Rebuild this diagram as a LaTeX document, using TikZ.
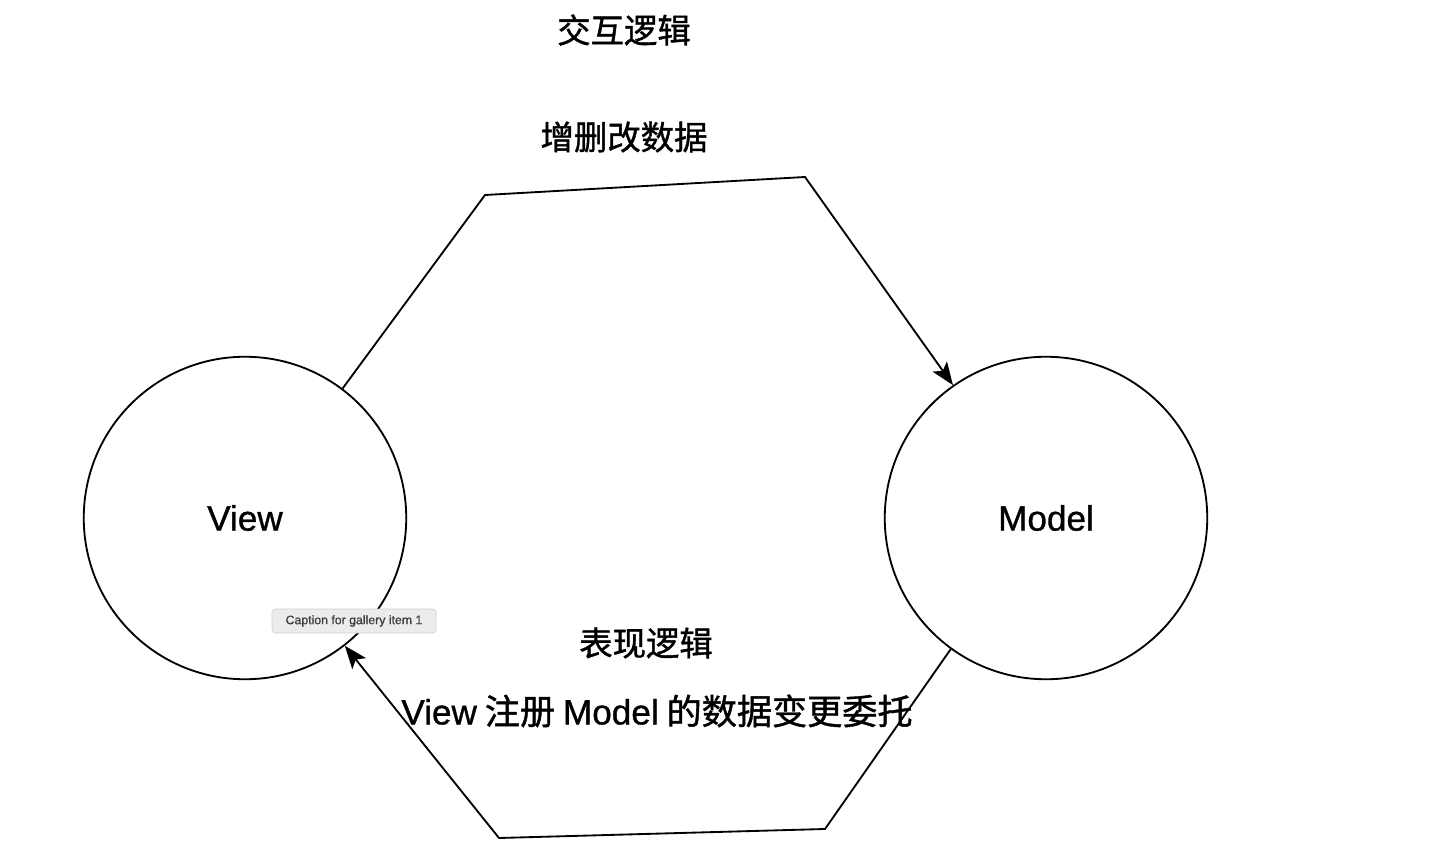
\documentclass[tikz,border=0pt]{standalone}
\usepackage{fontspec}
\setmainfont{Noto Sans CJK SC}[RawFeature={embolden=1.2}]
\newfontfamily\lat{Liberation Sans}[RawFeature={embolden=1.0}]
\usetikzlibrary{arrows.meta}
\begin{document}
\begin{tikzpicture}[>={Stealth[length=13pt,width=10pt,inset=3pt]}, line width=1.05pt,
  part/.style={circle, draw, minimum size=6.45cm, font=\lat\fontsize{20}{24}\selectfont},
  lbl/.style={font=\fontsize{19}{23}\selectfont}]
\useasboundingbox (0,0) rectangle (28.86,17.22);

\node [part] (view) at (4.90,6.86) {View};
\node [part] (model) at (20.92,6.86) {Model};

% corners of the two paths
\coordinate (tl) at (9.70,13.32);
\coordinate (tr) at (16.10,13.68);
\coordinate (br) at (16.50,0.64);
\coordinate (bl) at (9.98,0.46);

\draw [->] (view.53.5)--(tl)--(tr)--(model.125.3);
\draw [->] (model.234.4)--(br)--(bl)--(view.308.8);

\node [lbl] (title) at (12.48,16.62) {交互逻辑};
\node [lbl] (edit) at (12.48,14.48) {增删改数据};
\node [lbl] (show) at (12.92,4.36) {表现逻辑};
\node [lbl, font=\fontsize{20}{24}\selectfont] (reg) at (13.14,3.00)
  {{\lat View} 注册 {\lat Model} 的数据变更委托};

\node [draw=gray!35, fill=gray!15, rounded corners=2pt, minimum width=3.28cm,
  minimum height=0.48cm, inner sep=1pt, line width=0.4pt,
  font=\lat\fontsize{7}{8}\selectfont, text=black!75] (tip) at (7.08,4.80)
  {Caption for gallery item 1};
\end{tikzpicture}
\end{document}
